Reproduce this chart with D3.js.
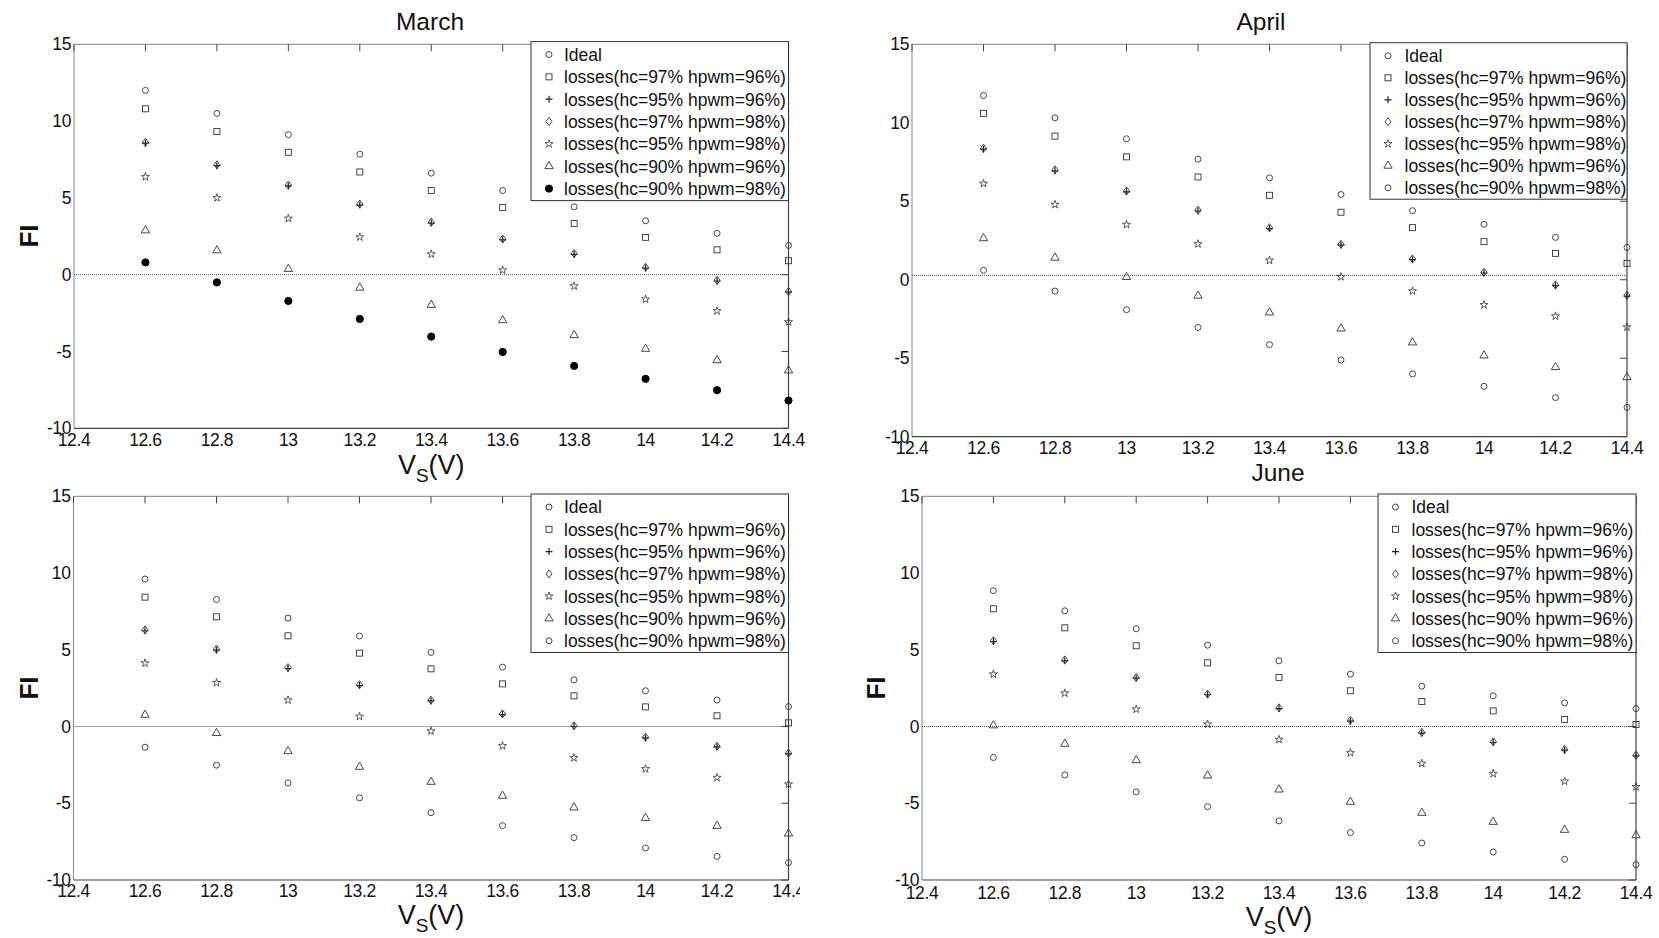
<!DOCTYPE html>
<html><head><meta charset="utf-8">
<script src="https://cdn.jsdelivr.net/npm/d3@7"></script>
<style>
html,body{margin:0;padding:0;background:#fff;}
svg{display:block;font-family:"Liberation Sans",Arial,Helvetica,sans-serif;}
</style></head>
<body>
<svg id="chart" width="1659" height="938"></svg>
<script>
// ---------- data ----------
const VS = [12.6, 12.8, 13, 13.2, 13.4, 13.6, 13.8, 14, 14.2, 14.4];
const X_TICKS = [12.4, 12.6, 12.8, 13, 13.2, 13.4, 13.6, 13.8, 14, 14.2, 14.4];
const Y_TICKS = [-10, -5, 0, 5, 10, 15];
const LEGEND_LABELS = ["Ideal", "losses(hc=97% hpwm=96%)", "losses(hc=95% hpwm=96%)",
  "losses(hc=97% hpwm=98%)", "losses(hc=95% hpwm=98%)", "losses(hc=90% hpwm=96%)",
  "losses(hc=90% hpwm=98%)"];
const TITLES = ["March", "April", "", "June"];
const REF_LINE = [0, 0.28, 0, 0];

const march_ideal  = [12.0, 10.5, 9.12, 7.84, 6.61, 5.48, 4.42, 3.51, 2.69, 1.91];
const march_l97_96 = [10.8, 9.32, 7.97, 6.69, 5.48, 4.38, 3.34, 2.43, 1.62, 0.91];
const march_l95_96 = [8.56, 7.10, 5.78, 4.53, 3.36, 2.27, 1.32, 0.43, -0.41, -1.13];
const march_l97_98 = [8.62, 7.16, 5.84, 4.60, 3.42, 2.33, 1.38, 0.48, -0.36, -1.08];
const march_l95_98 = [6.37, 5.00, 3.66, 2.45, 1.34, 0.30, -0.74, -1.60, -2.36, -3.08];
const march_l90_96 = [2.88, 1.58, 0.37, -0.85, -1.97, -2.97, -3.94, -4.83, -5.57, -6.24];
const march_l90_98 = [0.80, -0.50, -1.71, -2.88, -4.03, -5.03, -5.94, -6.78, -7.52, -8.19];

const april_ideal  = [11.74, 10.32, 8.98, 7.68, 6.49, 5.43, 4.40, 3.53, 2.70, 2.06];
const april_l97_96 = [10.6, 9.15, 7.83, 6.55, 5.38, 4.30, 3.32, 2.43, 1.68, 1.04];
const april_l95_96 = [8.32, 6.94, 5.60, 4.38, 3.26, 2.21, 1.28, 0.43, -0.38, -1.04];
const april_l97_98 = [8.38, 7.00, 5.66, 4.44, 3.32, 2.26, 1.33, 0.48, -0.33, -0.99];
const april_l95_98 = [6.13, 4.79, 3.51, 2.28, 1.23, 0.19, -0.72, -1.60, -2.32, -3.02];
const april_l90_96 = [2.64, 1.40, 0.17, -1.02, -2.09, -3.11, -4.00, -4.83, -5.57, -6.21];
const april_l90_98 = [0.60, -0.72, -1.91, -3.04, -4.13, -5.11, -6.00, -6.79, -7.51, -8.13];

const p3_ideal  = [9.61, 8.28, 7.07, 5.89, 4.83, 3.87, 3.04, 2.33, 1.72, 1.30];
const p3_l97_96 = [8.43, 7.15, 5.91, 4.78, 3.76, 2.78, 2.00, 1.28, 0.70, 0.24];
const p3_l95_96 = [6.24, 4.98, 3.78, 2.67, 1.67, 0.78, 0.00, -0.74, -1.33, -1.78];
const p3_l97_98 = [6.30, 5.04, 3.84, 2.73, 1.72, 0.83, 0.05, -0.69, -1.28, -1.73];
const p3_l95_98 = [4.13, 2.85, 1.72, 0.65, -0.30, -1.26, -2.04, -2.76, -3.33, -3.76];
const p3_l90_96 = [0.76, -0.43, -1.61, -2.63, -3.61, -4.52, -5.28, -5.96, -6.48, -6.98];
const p3_l90_98 = [-1.35, -2.52, -3.67, -4.65, -5.61, -6.46, -7.24, -7.91, -8.46, -8.87];

const june_ideal  = [8.85, 7.54, 6.37, 5.30, 4.28, 3.41, 2.63, 2.00, 1.54, 1.17];
const june_l97_96 = [7.67, 6.43, 5.26, 4.15, 3.20, 2.33, 1.63, 1.02, 0.46, 0.13];
const june_l95_96 = [5.54, 4.28, 3.15, 2.07, 1.17, 0.35, -0.43, -1.04, -1.54, -1.91];
const june_l97_98 = [5.60, 4.34, 3.20, 2.12, 1.22, 0.40, -0.38, -0.99, -1.49, -1.86];
const june_l95_98 = [3.41, 2.17, 1.13, 0.15, -0.85, -1.72, -2.41, -3.07, -3.57, -3.93];
const june_l90_96 = [0.07, -1.13, -2.20, -3.20, -4.11, -4.91, -5.63, -6.22, -6.74, -7.09];
const june_l90_98 = [-2.02, -3.15, -4.26, -5.22, -6.15, -6.91, -7.59, -8.17, -8.65, -9.00];

// ---------- layout ----------
const panels = [
  {series:[march_ideal,march_l97_96,march_l95_96,march_l97_98,march_l95_98,march_l90_96,march_l90_98],
   l:74, r:788.5, t:44.3, b:428.3, tx:430, ty:30, fi:true, fiY:236, xl:true, xlY:474, tickBase:17.5,
   leg:{x:531, y:41.6, w:257.5, h:159, y0:54.5, dy:22.35, mx:549, tx:564}, marks:["o","s","+","d","p","^","f"]},
  {series:[april_ideal,april_l97_96,april_l95_96,april_l97_98,april_l95_98,april_l90_96,april_l90_98],
   l:912, r:1627, t:44.3, b:436.7, tx:1261, ty:30, fi:false, xl:false, tickBase:17,
   leg:{x:1370, y:42.7, w:257, h:156.5, y0:55.8, dy:22.0, mx:1388, tx:1404.5}, marks:["o","s","+","d","p","^","o"]},
  {series:[p3_ideal,p3_l97_96,p3_l95_96,p3_l97_98,p3_l95_98,p3_l90_96,p3_l90_98],
   l:73.5, r:788.5, t:496.3, b:880, tx:431, ty:0, fi:true, fiY:688, xl:true, xlY:924, tickBase:17, clipX:800,
   leg:{x:531, y:494, w:257.5, h:158.5, y0:507, dy:22.3, mx:549, tx:564}, marks:["o","s","+","d","p","^","o"]},
  {series:[june_ideal,june_l97_96,june_l95_96,june_l97_98,june_l95_98,june_l90_96,june_l90_98],
   l:922, r:1636, t:496.3, b:880, tx:1278, ty:480.5, fi:true, fiX:876, fiY:688, xl:true, xlY:926, tickBase:19,
   leg:{x:1378, y:494, w:258, h:158.5, y0:507, dy:22.3, mx:1395.5, tx:1411.5}, marks:["o","s","+","d","p","^","o"]}
];

const svg = d3.select("#chart");
const INK = "#333";
const fmt = d => String(+d.toFixed(1));

function marker(g, type, x, y) {
  switch (type) {
    case "o": g.append("circle").attr("cx", x).attr("cy", y).attr("r", 3)
      .attr("fill", "none").attr("stroke", INK).attr("stroke-width", 0.9); break;
    case "f": g.append("circle").attr("cx", x).attr("cy", y).attr("r", 3.6)
      .attr("fill", "#000").attr("stroke", "#000"); break;
    case "s": g.append("rect").attr("x", x - 3).attr("y", y - 3).attr("width", 6).attr("height", 6)
      .attr("fill", "none").attr("stroke", INK).attr("stroke-width", 0.9); break;
    case "+": g.append("path").attr("d", `M${x-3.5},${y}H${x+3.5}M${x},${y-3.5}V${y+3.5}`)
      .attr("stroke", "#222").attr("stroke-width", 1.2).attr("fill", "none"); break;
    case "d": g.append("path").attr("d", `M${x},${y-4}L${x+3},${y}L${x},${y+4}L${x-3},${y}Z`)
      .attr("fill", "none").attr("stroke", INK).attr("stroke-width", 0.9); break;
    case "p": g.append("path").attr("d", d3.symbol(d3.symbolStar, 20)())
      .attr("transform", `translate(${x},${y})`)
      .attr("fill", "none").attr("stroke", INK).attr("stroke-width", 0.8); break;
    case "^": g.append("path").attr("d", d3.symbol(d3.symbolTriangle, 30)())
      .attr("transform", `translate(${x},${y})`)
      .attr("fill", "none").attr("stroke", INK).attr("stroke-width", 0.9); break;
  }
}

panels.forEach((p, pi) => {
  const g = svg.append("g");
  const x = d3.scaleLinear().domain([12.4, 14.4]).range([p.l, p.r]);
  const y = d3.scaleLinear().domain([-10, 15]).range([p.b, p.t]);

  // frame (MATLAB style: light top/left, dark right/bottom)
  g.append("line").attr("x1", p.l).attr("x2", p.r).attr("y1", p.t).attr("y2", p.t).attr("stroke", "#999").attr("stroke-width", 1.2);
  g.append("line").attr("x1", p.l).attr("x2", p.l).attr("y1", p.t).attr("y2", p.b).attr("stroke", "#999").attr("stroke-width", 1.2);
  g.append("line").attr("x1", p.r).attr("x2", p.r).attr("y1", p.t).attr("y2", p.b).attr("stroke", "#444").attr("stroke-width", 1.2);
  g.append("line").attr("x1", p.l).attr("x2", p.r).attr("y1", p.b).attr("y2", p.b).attr("stroke", "#444").attr("stroke-width", 1.2);

  // inward ticks on top and right
  g.selectAll(null).data(X_TICKS).enter().append("line")
    .attr("x1", d => x(d)).attr("x2", d => x(d)).attr("y1", p.t).attr("y2", p.t + 7)
    .attr("stroke", "#444");
  g.selectAll(null).data(Y_TICKS).enter().append("line")
    .attr("x1", p.r).attr("x2", p.r - 7).attr("y1", d => y(d)).attr("y2", d => y(d))
    .attr("stroke", "#444");

  // tick labels
  let labG = g.append("g");
  if (p.clipX) {
    svg.append("clipPath").attr("id", "clip" + pi).append("rect")
      .attr("x", 0).attr("y", 0).attr("width", p.clipX).attr("height", 938);
    labG.attr("clip-path", `url(#clip${pi})`);
  }
  labG.selectAll(null).data(X_TICKS).enter().append("text")
    .attr("x", d => x(d)).attr("y", p.b + p.tickBase).attr("text-anchor", "middle")
    .attr("font-size", 17.5).attr("letter-spacing", -0.4).attr("fill", "#111").text(fmt);
  g.selectAll(null).data(Y_TICKS).enter().append("text")
    .attr("x", p.l - 3).attr("y", d => y(d)).attr("dy", "0.35em").attr("text-anchor", "end")
    .attr("font-size", 17.5).attr("letter-spacing", -0.4).attr("fill", "#111").text(d => d);

  // reference dotted line
  g.append("line").attr("x1", x(12.4)).attr("x2", x(14.4))
    .attr("y1", y(REF_LINE[pi])).attr("y2", y(REF_LINE[pi]))
    .attr("stroke", "#444").attr("stroke-width", 1).attr("stroke-dasharray", "1,1");

  // data markers
  const mg = g.append("g");
  p.series.forEach((s, si) => {
    s.forEach((v, i) => marker(mg, p.marks[si], x(VS[i]), y(v)));
  });

  // legend
  const L = p.leg;
  g.append("rect").attr("x", L.x).attr("y", L.y).attr("width", L.w).attr("height", L.h)
    .attr("fill", "#fff").attr("stroke", "#333").attr("stroke-width", 1);
  LEGEND_LABELS.forEach((lab, i) => {
    const yy = L.y0 + i * L.dy;
    marker(g, p.marks[i], L.mx, yy);
    g.append("text").attr("x", L.tx).attr("y", yy).attr("dy", "0.36em")
      .attr("font-size", 17.5).attr("fill", "#111").text(lab);
  });

  // title
  if (TITLES[pi]) {
    g.append("text").attr("x", p.tx).attr("y", p.ty).attr("text-anchor", "middle")
      .attr("font-size", 24.5).attr("fill", "#111").text(TITLES[pi]);
  }
  // y label
  if (p.fi) {
    const fx = p.fiX || 29;
    g.append("text").attr("transform", `translate(${fx},${p.fiY}) rotate(-90)`)
      .attr("text-anchor", "middle").attr("dy", "0.36em")
      .attr("font-size", 26).attr("font-weight", "bold").attr("fill", "#111").text("FI");
  }
  // x label
  if (p.xl) {
    const t = g.append("text").attr("x", (p.l + p.r) / 2).attr("y", p.xlY)
      .attr("text-anchor", "middle").attr("font-size", 27).attr("fill", "#111");
    t.append("tspan").text("V");
    t.append("tspan").attr("font-size", 19).attr("dy", 8).text("S");
    t.append("tspan").attr("dy", -8).text("(V)");
  }
});
</script>
</body></html>
